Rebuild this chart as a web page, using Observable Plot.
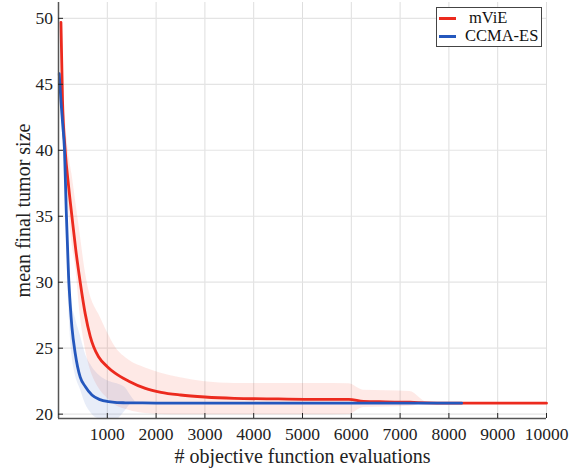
<!DOCTYPE html>
<html>
<head>
<meta charset="utf-8">
<script src="https://cdn.jsdelivr.net/npm/d3@7"></script>
<script src="https://cdn.jsdelivr.net/npm/@observablehq/plot@0.6"></script>
<style>
  html, body { margin: 0; padding: 0; background: #fff; }
  #wrap { position: relative; width: 581px; height: 470px; font-family: "Liberation Serif", "Times New Roman", serif; }
  #wrap svg { position: absolute; left: 0; top: 0; font-family: "Liberation Serif", serif; }
  #wrap svg text { font-family: "Liberation Serif", serif; }
  #legend { position: absolute; left: 436px; top: 7px; width: 104px; height: 38px; border: 1px solid #444; background: #fff; font-size: 16.5px; color: #111; }
  #legend .row { position: absolute; left: 0; height: 18px; line-height: 18px; }
  #legend .sw { position: absolute; left: 2px; top: 8px; width: 17px; height: 3px; }
  #legend .lab { position: absolute; white-space: nowrap; }
</style>
</head>
<body>
<div id="wrap"></div>
<script>
// ---- data ----
const seriesNames = ["mViE", "CCMA-ES"];
const seriesColors = ["#ec2a1e", "#2457bd"];
const bandColors = ["#f2391f", "#2a5cbf"];

const mvieEvals = [50, 82, 137, 206, 275, 356, 445, 548, 650, 720, 820, 1000, 1160, 1440, 1780, 2100, 2500, 3000, 3600, 4500, 5300, 5950, 6250, 6700, 7200, 7560, 8000, 9000, 10000];
const mvieMean  = [49.7, 43.8, 40.0, 37.3, 35.0, 32.4, 30.0, 27.6, 25.9, 25.1, 24.35, 23.6, 23.1, 22.5, 21.95, 21.65, 21.45, 21.3, 21.2, 21.15, 21.12, 21.12, 20.97, 20.93, 20.9, 20.86, 20.84, 20.83, 20.83];
const mvieUpper = [49.7, 45.5, 42.5, 39.8, 38.2, 36.0, 33.6, 30.8, 29.0, 28.3, 27.6, 26.2, 25.1, 24.1, 23.5, 23.1, 22.75, 22.45, 22.33, 22.33, 22.33, 22.3, 21.82, 21.78, 21.72, 20.9, 20.84, 20.83, 20.83];
const mvieLower = [49.7, 42.5, 38.5, 35.5, 33.0, 31.0, 27.5, 25.0, 23.4, 22.7, 22.0, 21.2, 20.7, 20.3, 20.05, 19.98, 19.95, 19.95, 19.95, 19.95, 19.95, 19.97, 20.5, 20.55, 20.6, 20.85, 20.84, 20.83, 20.83];

const ccmaEvals = [15, 49, 90, 123, 158, 206, 240, 275, 343, 445, 548, 685, 850, 1026, 1200, 1370, 1500, 1600, 2000, 4000, 6000, 8262];
const ccmaMean  = [45.8, 43.8, 41.8, 40.0, 35.5, 30.5, 28.3, 26.6, 24.6, 22.8, 22.1, 21.45, 21.1, 20.95, 20.88, 20.86, 20.85, 20.85, 20.84, 20.83, 20.83, 20.83];
const ccmaUpper = [45.8, 44.2, 42.5, 41.0, 37.5, 33.0, 30.5, 28.5, 27.3, 26.0, 24.6, 23.6, 22.9, 22.5, 22.3, 22.0, 21.3, 20.9, 20.85, 20.83, 20.83, 20.83];
const ccmaLower = [45.8, 43.4, 41.0, 39.0, 34.0, 28.5, 26.0, 24.5, 23.0, 21.9, 20.8, 20.0, 19.6, 19.5, 19.6, 20.25, 20.8, 20.85, 20.84, 20.83, 20.83, 20.83];

const xTicks = [1000, 2000, 3000, 4000, 5000, 6000, 7000, 8000, 9000, 10000];
const yTicks = [20, 25, 30, 35, 40, 45, 50];
const xDomain = [0, 10000];
const yDomain = [19.67, 51.2];
const xLabel = "# objective function evaluations";
const yLabel = "mean final tumor size";

// ---- tables ----
const mvie = mvieEvals.map((x, i) => ({x, mean: mvieMean[i], lo: mvieLower[i], hi: mvieUpper[i]}));
const ccma = ccmaEvals.map((x, i) => ({x, mean: ccmaMean[i], lo: ccmaLower[i], hi: ccmaUpper[i]}));

const font = "Liberation Serif";
const tickFont = {fontSize: 17.5, fontFamily: font, fill: "#222"};
const chart = Plot.plot({
  width: 581,
  height: 470,
  marginLeft: 58,
  marginRight: 35,
  marginTop: 2,
  marginBottom: 52,
  style: {fontFamily: font, background: "#fff", color: "#222"},
  x: {domain: xDomain},
  y: {domain: yDomain},
  marks: [
    Plot.gridX(xTicks, {stroke: "#dedede", strokeOpacity: 1, strokeWidth: 1}),
    Plot.gridY(yTicks, {stroke: "#e4e4e4", strokeOpacity: 1, strokeWidth: 1.2}),
    Plot.areaY(mvie, {x: "x", y1: "lo", y2: "hi", fill: bandColors[0], fillOpacity: 0.11, curve: "monotone-x", clip: true}),
    Plot.areaY(ccma, {x: "x", y1: "lo", y2: "hi", fill: bandColors[1], fillOpacity: 0.11, curve: "monotone-x", clip: true}),
    Plot.lineY(mvie, {x: "x", y: "mean", stroke: seriesColors[0], strokeWidth: 2.8, curve: "monotone-x"}),
    Plot.lineY(ccma, {x: "x", y: "mean", stroke: seriesColors[1], strokeWidth: 2.8, curve: "monotone-x"}),
    Plot.ruleX([xDomain[0]], {stroke: "#555", strokeWidth: 1.5}),
    Plot.ruleY([yDomain[0]], {stroke: "#555", strokeWidth: 1.5}),
    Plot.axisX({ticks: xTicks, tickSize: -5, label: null, tickFormat: () => ""}),
    Plot.axisY({ticks: yTicks, tickSize: -5, label: null, tickFormat: () => ""}),
    Plot.text(xTicks, {x: d => d, text: d => String(d), frameAnchor: "bottom", textAnchor: "middle", lineAnchor: "top", dy: 9, ...tickFont}),
    Plot.text(yTicks, {y: d => d, text: d => String(d), frameAnchor: "left", textAnchor: "end", lineAnchor: "middle", dx: -5.5, ...tickFont}),
    Plot.text([xLabel], {text: d => d, frameAnchor: "bottom", textAnchor: "middle", lineAnchor: "middle", dy: 37.6, fontSize: 20, fontFamily: font, fill: "#222"}),
    Plot.text([yLabel], {text: d => d, frameAnchor: "left", textAnchor: "middle", lineAnchor: "middle", rotate: -90, dx: -35, fontSize: 20, fontFamily: font, fill: "#222"})
  ]
});

const wrap = document.getElementById("wrap");
wrap.appendChild(chart);

// legend
const legend = document.createElement("div");
legend.id = "legend";
const labLeft = [32, 28];
seriesNames.forEach((name, i) => {
  const row = document.createElement("div");
  row.className = "row";
  row.style.top = (1 + i * 18) + "px";
  row.style.width = "104px";
  const sw = document.createElement("div");
  sw.className = "sw";
  sw.style.background = seriesColors[i];
  const lab = document.createElement("div");
  lab.className = "lab";
  lab.style.left = labLeft[i] + "px";
  lab.textContent = name;
  row.appendChild(sw);
  row.appendChild(lab);
  legend.appendChild(row);
});
wrap.appendChild(legend);
</script>
</body>
</html>
